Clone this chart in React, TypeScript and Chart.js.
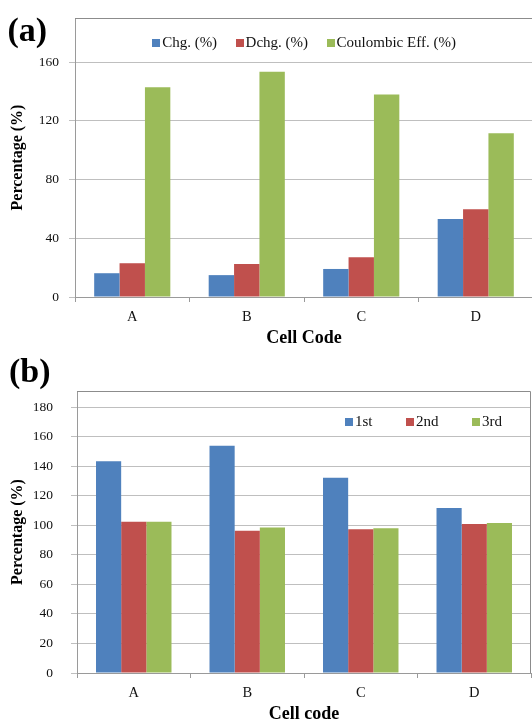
import React, { useEffect, useRef } from 'react';
import { Chart, registerables } from 'chart.js';

Chart.register(...registerables);

// ---------- Data: panel (a) ----------
const cellCodesA = ['A', 'B', 'C', 'D'];
const seriesLabelsA = ['Chg. (%)', 'Dchg. (%)', 'Coulombic Eff. (%)'];
const chgValues = [16.2, 14.9, 19.1, 53.1];
const dchgValues = [23.0, 22.5, 27.0, 59.7];
const coulombicValues = [142.9, 153.5, 137.9, 111.6];
const yTickStepA = 40;

// ---------- Data: panel (b) ----------
const cellCodesB = ['A', 'B', 'C', 'D'];
const seriesLabelsB = ['1st', '2nd', '3rd'];
const firstValues = [143.5, 154.0, 132.3, 111.8];
const secondValues = [102.5, 96.3, 97.3, 101.0];
const thirdValues = [102.5, 98.5, 98.0, 101.6];
const yTickStepB = 20;

const COLORS = ['#4F81BD', '#C0504D', '#9BBB59'];
const SERIF = '"Liberation Serif", "Times New Roman", serif';
const TEXT = '#111111';
const GRID = '#bfbfbf';
const AXIS = '#9a9a9a';

const decorPlugin = {
  id: 'decor',
  afterDatasetsDraw(chart: any, _args: any, o: any) {
    const { ctx, chartArea } = chart;
    ctx.save();
    // frame (top + right)
    ctx.strokeStyle = o.frameColor || '#8c8c8c';
    ctx.lineWidth = 1;
    ctx.beginPath();
    const t = Math.round(chartArea.top) + 0.5;
    const r = Math.round(chartArea.right) - 0.5;
    ctx.moveTo(Math.round(chartArea.left), t);
    ctx.lineTo(r, t);
    ctx.lineTo(r, chartArea.bottom);
    ctx.stroke();

    // legend
    ctx.font = `15px ${SERIF}`;
    ctx.textBaseline = 'middle';
    ctx.textAlign = 'left';
    const items = chart.data.datasets.map((ds: any) => ({
      label: ds.label,
      color: ds.backgroundColor,
      w: ctx.measureText(ds.label).width,
    }));
    const box = 8;
    const boxGap = 2;
    const gap = o.itemGap;
    const total =
      items.reduce((s: number, it: any) => s + box + boxGap + it.w, 0) + gap * (items.length - 1);
    let x =
      o.align === 'right'
        ? chartArea.right - o.rightInset - total
        : (chartArea.left + chartArea.right) / 2 - total / 2;
    const y = chartArea.top + o.offsetY;
    items.forEach((it: any) => {
      ctx.fillStyle = it.color;
      ctx.fillRect(Math.round(x), Math.round(y - box / 2), box, box);
      x += box + boxGap;
      ctx.fillStyle = TEXT;
      ctx.fillText(it.label, x, y);
      x += it.w + gap;
    });

    // panel label
    ctx.font = `bold 34px ${SERIF}`;
    ctx.textBaseline = 'alphabetic';
    ctx.fillStyle = '#000';
    ctx.fillText(o.panel, o.panelX, o.panelY);
    ctx.restore();
  },
};

function makeConfig(p: {
  labels: string[];
  series: number[][];
  names: string[];
  max: number;
  step: number;
  canvasH: number;
  bottomY: number;
  padTop: number;
  padRight: number;
  yWidth: number;
  yTickPad: number;
  xTitle: string;
  xTitlePadBottom: number;
  decor: any;
}) {
  return {
    type: 'bar',
    data: {
      labels: p.labels,
      datasets: p.series.map((vals, i) => ({
        label: p.names[i],
        data: vals,
        backgroundColor: COLORS[i],
        borderWidth: 0,
        categoryPercentage: 0.665,
        barPercentage: 1.0,
      })),
    },
    options: {
      responsive: false,
      animation: false,
      devicePixelRatio: 1,
      layout: { padding: { top: p.padTop, right: p.padRight, left: 0, bottom: 0 } },
      plugins: {
        legend: { display: false },
        tooltip: { enabled: false },
        decor: p.decor,
      },
      scales: {
        x: {
          type: 'category',
          offset: true,
          grid: {
            offset: true,
            drawOnChartArea: false,
            drawTicks: true,
            tickLength: 5,
            color: AXIS,
          },
          border: { color: AXIS, width: 1 },
          ticks: { font: { family: SERIF, size: 14.5 }, color: TEXT, padding: 6, maxRotation: 0 },
          title: {
            display: true,
            text: p.xTitle,
            color: '#000',
            font: { family: SERIF, size: 18, weight: 'bold' },
            padding: { top: 0, bottom: p.xTitlePadBottom },
          },
          afterFit: (s: any) => {
            s.height = p.canvasH - p.bottomY;
          },
        },
        y: {
          min: 0,
          max: p.max,
          grid: { color: GRID, tickLength: 6, drawTicks: true },
          border: { color: AXIS, width: 1 },
          ticks: {
            stepSize: p.step,
            font: { family: SERIF, size: 13.5 },
            color: TEXT,
            padding: p.yTickPad,
          },
          afterBuildTicks: (axis: any) => {
            axis.ticks = axis.ticks.filter((t: any) => t.value % p.step === 0);
          },
          title: {
            display: true,
            text: 'Percentage (%)',
            color: '#000',
            font: { family: SERIF, size: 16, weight: 'bold' },
            padding: { top: 8, bottom: 0 },
          },
          afterFit: (s: any) => {
            s.width = p.yWidth;
          },
        },
      },
    },
    plugins: [decorPlugin],
  } as any;
}

export default function App() {
  const refA = useRef<HTMLCanvasElement>(null);
  const refB = useRef<HTMLCanvasElement>(null);

  useEffect(() => {
    document.body.style.margin = '0';
    const chartA = new Chart(
      refA.current as HTMLCanvasElement,
      makeConfig({
        labels: cellCodesA,
        series: [chgValues, dchgValues, coulombicValues],
        names: seriesLabelsA,
        max: 190,
        step: yTickStepA,
        canvasH: 350,
        bottomY: 297,
        padTop: 16,
        padRight: 7,
        yWidth: 75,
        yTickPad: 10,
        xTitle: 'Cell Code',
        xTitlePadBottom: 1.2,
        decor: {
          itemGap: 18.5,
          align: 'center',
          offsetY: 24.5,
          rightInset: 0,
          panel: '(a)',
          panelX: 7.5,
          panelY: 40.5,
        },
      })
    );
    const chartB = new Chart(
      refB.current as HTMLCanvasElement,
      makeConfig({
        labels: cellCodesB,
        series: [firstValues, secondValues, thirdValues],
        names: seriesLabelsB,
        max: 191,
        step: yTickStepB,
        canvasH: 380,
        bottomY: 323,
        padTop: 41,
        padRight: 1,
        yWidth: 77,
        yTickPad: 18,
        xTitle: 'Cell code',
        xTitlePadBottom: 4.9,
        decor: {
          itemGap: 33.5,
          align: 'right',
          offsetY: 30.7,
          rightInset: 29,
          panel: '(b)',
          panelX: 9,
          panelY: 32,
        },
      })
    );
    return () => {
      chartA.destroy();
      chartB.destroy();
    };
  }, []);

  return (
    <div
      style={{
        position: 'absolute',
        left: 0,
        top: 0,
        width: 532,
        height: 720,
        overflow: 'hidden',
        background: '#fff',
      }}
    >
      <canvas
        ref={refA}
        width={540}
        height={350}
        style={{ position: 'absolute', left: 0, top: 0, display: 'block' }}
      />
      <canvas
        ref={refB}
        width={532}
        height={380}
        style={{ position: 'absolute', left: 0, top: 350, display: 'block' }}
      />
    </div>
  );
}
